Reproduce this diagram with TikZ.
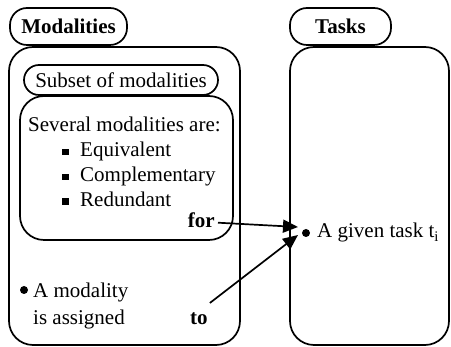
\documentclass[tikz,border=0pt]{standalone}
\usepackage{fontspec}
\setmainfont{Liberation Serif}
\usetikzlibrary{arrows.meta,positioning}

\newcommand{\sqmark}{\raisebox{1.5pt}{\rule{6.5pt}{6.5pt}}\hspace{11.5pt}}

\begin{document}
\begin{tikzpicture}[x=1pt,y=-1pt,
    every node/.style={font=\rmfamily\fontsize{21}{27}\selectfont},
    boldtxt/.style={font=\rmfamily\fontsize{21}{27}\selectfont\bfseries},
    pill/.style={draw, line width=1.7pt, rounded corners=17pt, inner sep=0pt},
    panel/.style={draw, line width=1.7pt, rounded corners=24pt, inner sep=0pt},
    txt/.style={anchor=base west, inner sep=0pt},
    dot/.style={circle, fill=black, inner sep=0pt, minimum size=7pt},
    link/.style={line width=1.7pt, -{Triangle[length=15pt,width=13pt]}}]
    \useasboundingbox (0,0) rectangle (451,347);

    % the two columns
    \node[panel, minimum width=231pt, minimum height=298pt] (modbox) at (124.5,196) {};
    \node[panel, minimum width=159pt, minimum height=298pt] (taskbox) at (369.5,196) {};
    \node[pill, boldtxt, minimum width=117pt, minimum height=37pt] (modtitle) at (68.5,26.5) {Modalities};
    \node[pill, boldtxt, minimum width=101pt, minimum height=37pt] (tasktitle) at (340.5,26.5) {Tasks};

    % subset of modalities
    \node[pill, rounded corners=15pt, minimum width=194pt, minimum height=30pt] (subset) at (121,80) {Subset of modalities};
    \node[panel, minimum width=213pt, minimum height=144pt] (group) at (126.5,168) {};

    \node[txt] (several) at (28,131.5) {Several modalities are:};
    \node[txt] (equiv) at (62,157) {\sqmark Equivalent};
    \node[txt, below=25pt of equiv.base west, anchor=base west] (compl) {\sqmark Complementary};
    \node[txt, below=24.5pt of compl.base west, anchor=base west] (redund) {\sqmark Redundant};
    \node[txt, boldtxt, anchor=base east] (forlbl) at (215,228) {for};

    % single modality
    \node[dot, minimum width=6pt, minimum height=8pt] (mdot) at (24,290) {};
    \node[txt, align=left] (assigned) at (33,325) {A modality\\is assigned};
    \node[txt, boldtxt] (tolbl) at (190,325) {to};

    % the task
    \node[dot, minimum width=7pt, minimum height=8pt] (tdot) at (306,233) {};
    \node[txt] (task) at (317,238) {A given task t\textsubscript{i}};

    \draw[link] ([xshift=3pt,yshift=-2pt]forlbl.east) -- ([shift={(-8,-6)}]tdot.center);
    \draw[link] ([xshift=2pt,yshift=10pt]tolbl.north east) -- ([shift={(-8,2)}]tdot.center);
\end{tikzpicture}
\end{document}
